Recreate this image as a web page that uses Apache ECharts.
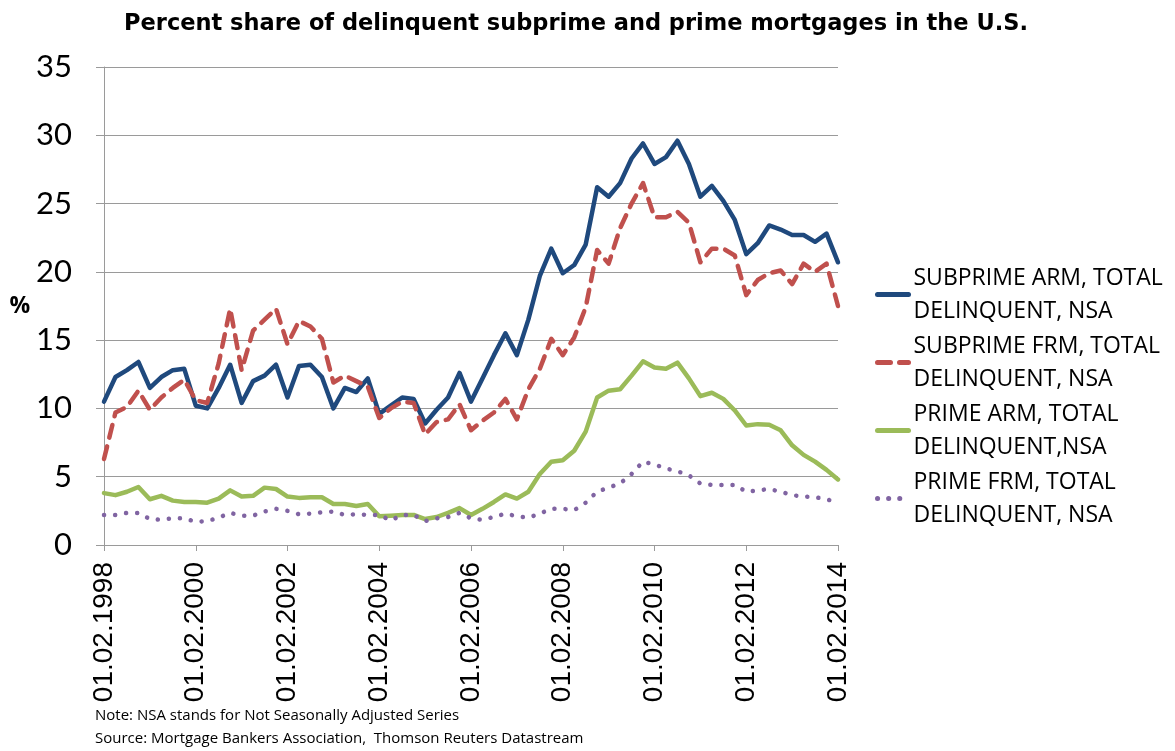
<!DOCTYPE html>
<html>
<head>
<meta charset="utf-8">
<script src="https://cdn.jsdelivr.net/npm/echarts@6/dist/echarts.min.js"></script>
<style>
  html, body { margin: 0; padding: 0; background: #fff; }
  #chart { width: 1175px; height: 751px; }
</style>
</head>
<body>
<div id="chart"></div>
<script>
// quarterly dates, 01.02.1998 .. 01.02.2014
const months = ['02', '05', '08', '11']
const categories = []
for (let y = 1998; y <= 2014; y++) {
  for (const m of months) {
    if (y === 2014 && m !== '02') break
    categories.push('01.' + m + '.' + y)
  }
}

const seriesNames = [
  'SUBPRIME ARM, TOTAL\nDELINQUENT, NSA',
  'SUBPRIME FRM, TOTAL\nDELINQUENT, NSA',
  'PRIME ARM, TOTAL\nDELINQUENT,NSA',
  'PRIME FRM, TOTAL\nDELINQUENT, NSA'
]

const subprimeArm = [
  10.5, 12.3, 12.8, 13.4, 11.5, 12.3, 12.8, 12.9, 10.2, 10.0,
  11.5, 13.2, 10.4, 12.0, 12.4, 13.2, 10.8, 13.1, 13.2, 12.3,
  10.0, 11.5, 11.2, 12.2, 9.6, 10.2, 10.8, 10.7, 8.9, 9.9,
  10.8, 12.6, 10.5, 12.2, 13.9, 15.5, 13.9, 16.5, 19.7, 21.7,
  19.9, 20.5, 22.0, 26.2, 25.5, 26.5, 28.3, 29.4, 27.9, 28.4,
  29.6, 27.9, 25.5, 26.3, 25.2, 23.8, 21.3, 22.1, 23.4, 23.1,
  22.7, 22.7, 22.2, 22.8, 20.7
]
const subprimeFrm = [
  6.3, 9.7, 10.1, 11.3, 9.9, 10.8, 11.5, 12.1, 10.6, 10.4,
  13.3, 17.3, 12.8, 15.7, 16.5, 17.3, 14.7, 16.4, 16.0, 15.1,
  11.9, 12.4, 12.0, 11.6, 9.3, 10.0, 10.5, 10.4, 8.1, 9.0,
  9.2, 10.3, 8.4, 9.1, 9.7, 10.7, 9.2, 11.4, 12.9, 15.1,
  13.9, 15.2, 17.4, 21.6, 20.6, 23.2, 25.0, 26.5, 24.0, 24.0,
  24.4, 23.6, 20.7, 21.7, 21.7, 21.2, 18.3, 19.4, 19.9, 20.1,
  19.1, 20.6, 20.0, 20.6, 17.5
]
const primeArm = [
  3.8, 3.65, 3.9, 4.25, 3.35, 3.6, 3.25, 3.15, 3.15, 3.1,
  3.4, 4.0, 3.55, 3.6, 4.2, 4.1, 3.55, 3.45, 3.5, 3.5,
  3.0, 3.0, 2.85, 3.0, 2.1, 2.15, 2.2, 2.2, 1.9, 2.05,
  2.35, 2.7, 2.2, 2.65, 3.15, 3.7, 3.4, 3.9, 5.2, 6.1,
  6.2, 6.9, 8.3, 10.8, 11.3, 11.4, 12.4, 13.45, 13.0, 12.9,
  13.35, 12.2, 10.9, 11.15, 10.7, 9.85, 8.75, 8.85, 8.8, 8.4,
  7.3, 6.6, 6.1, 5.5, 4.8
]
const primeFrm = [
  2.2, 2.2, 2.35, 2.35, 1.9, 1.85, 1.95, 1.95, 1.7, 1.75,
  2.0, 2.35, 2.15, 2.15, 2.45, 2.65, 2.5, 2.25, 2.3, 2.4,
  2.45, 2.2, 2.25, 2.2, 2.2, 1.8, 2.2, 2.2, 1.75, 1.95,
  2.05, 2.35, 1.95, 1.85, 2.05, 2.3, 2.1, 2.0, 2.3, 2.65,
  2.65, 2.55, 3.1, 3.9, 4.2, 4.5, 5.2, 6.1, 5.9, 5.6,
  5.4, 5.1, 4.5, 4.4, 4.4, 4.4, 3.9, 4.0, 4.1, 3.9,
  3.65, 3.55, 3.5, 3.35, 3.1
]

const colors = ['#1f497d', '#c0504d', '#9bbb59', '#8064a2']

const chart = echarts.init(document.getElementById('chart'))

const lineSeries = (name, data, color, type, width) => ({
  name,
  type: 'line',
  data,
  symbol: 'none',
  color,
  lineStyle: { color, width, type, cap: 'round', join: 'round' }
})

chart.setOption({
  animation: false,
  backgroundColor: '#fff',
  title: {
    text: 'Percent share of delinquent subprime and prime mortgages in the U.S.',
    left: 571,
    textAlign: 'center',
    top: 8,
    textStyle: { fontFamily: 'DejaVu Sans', fontWeight: 'bold', fontSize: 22.5, color: '#000' }
  },
  grid: { left: 104, right: 337, top: 67, bottom: 206 },
  legend: {
    orient: 'vertical',
    left: 870,
    top: 240,
    itemWidth: 31,
    itemHeight: 14,
    itemGap: -31,
    itemStyle: { opacity: 0, borderWidth: 0 },
    lineStyle: { width: 5, cap: 'round' },
    textStyle: {
      fontFamily: 'Open Sans',
      fontSize: 23,
      color: '#000',
      lineHeight: 33,
      padding: [33, 0, 0, 0]
    },
    data: seriesNames
  },
  xAxis: {
    type: 'category',
    data: categories,
    boundaryGap: false,
    axisLine: { lineStyle: { color: '#9a9a9a', width: 1 } },
    axisTick: { show: true, interval: 7, length: 6, lineStyle: { color: '#9a9a9a' } },
    axisLabel: {
      interval: 7,
      rotate: 90,
      margin: 17,
      fontFamily: 'Liberation Sans',
      fontSize: 28,
      color: '#000'
    },
    splitLine: { show: false }
  },
  yAxis: {
    type: 'value',
    min: 0,
    max: 35,
    interval: 5,
    name: '%',
    nameLocation: 'middle',
    nameRotate: 0,
    nameGap: 72,
    nameTextStyle: { fontFamily: 'Open Sans', fontWeight: 'bold', fontSize: 23, color: '#000' },
    axisLine: { show: true, lineStyle: { color: '#9a9a9a', width: 1 } },
    axisTick: { show: true, length: 8, lineStyle: { color: '#9a9a9a' } },
    axisLabel: { margin: 32, fontFamily: 'Lato', fontSize: 31, color: '#000' },
    splitLine: { lineStyle: { color: '#9a9a9a', width: 1 } }
  },
  series: [
    lineSeries(seriesNames[0], subprimeArm, colors[0], 'solid', 4.5),
    lineSeries(seriesNames[1], subprimeFrm, colors[1], [13, 9], 4.5),
    lineSeries(seriesNames[2], primeArm, colors[2], 'solid', 4.5),
    lineSeries(seriesNames[3], primeFrm, colors[3], [0.1, 11], 4.5)
  ],
  graphic: [
    {
      type: 'text',
      left: 95,
      top: 708,
      style: { text: 'Note: NSA stands for Not Seasonally Adjusted Series', font: '15px "Open Sans"', fill: '#000' }
    },
    {
      type: 'text',
      left: 95,
      top: 731,
      style: { text: 'Source: Mortgage Bankers Association,  Thomson Reuters Datastream', font: '15px "Open Sans"', fill: '#000' }
    }
  ]
})

window.addEventListener('resize', () => chart.resize())
</script>
</body>
</html>
